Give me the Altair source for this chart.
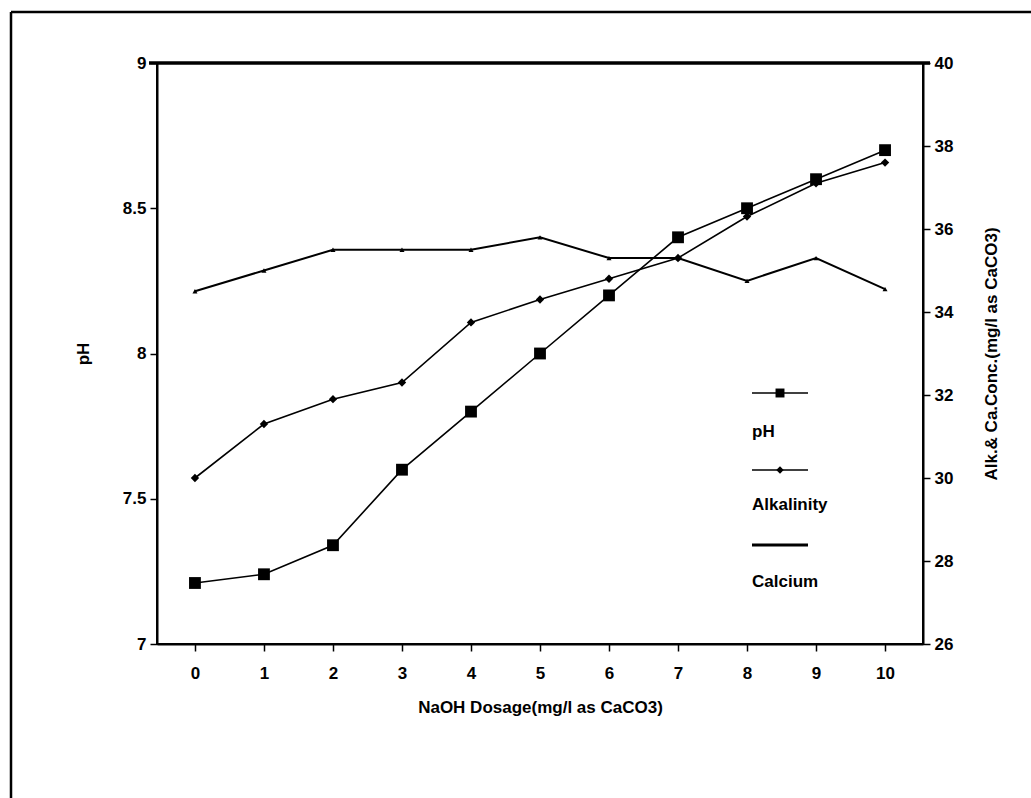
import altair as alt
import pandas as pd

dosage = [0, 1, 2, 3, 4, 5, 6, 7, 8, 9, 10]
ph = [7.21, 7.24, 7.34, 7.60, 7.80, 8.00, 8.20, 8.40, 8.50, 8.60, 8.70]
alkalinity = [30.0, 31.3, 31.9, 32.3, 33.75, 34.3, 34.8, 35.3, 36.3, 37.1, 37.6]
calcium = [34.5, 35.0, 35.5, 35.5, 35.5, 35.8, 35.3, 35.3, 34.75, 35.3, 34.55]

x_ticks = dosage
ph_ticks = [7, 7.5, 8, 8.5, 9]
conc_ticks = [26, 28, 30, 32, 34, 36, 38, 40]

df = pd.DataFrame({"dosage": dosage, "ph": ph, "alk": alkalinity, "ca": calcium})

FONT = "Liberation Sans"
W, H = 766, 581

xenc = alt.X("dosage:Q", scale=alt.Scale(domain=[-0.55, 10.55], nice=False, zero=False),
             axis=alt.Axis(values=x_ticks, title="NaOH Dosage(mg/l as CaCO3)", grid=False,
                           tickSize=7, labelPadding=14, titlePadding=18, format="d"))

base = alt.Chart(df)

ph_y = alt.Y("ph:Q", scale=alt.Scale(domain=[7, 9], nice=False, zero=False),
             axis=alt.Axis(values=ph_ticks, title="pH", grid=False, orient="left", format="~g",
                           tickSize=7, labelPadding=4, titlePadding=30))
ph_line = base.mark_line(color="black", strokeWidth=1.6).encode(x=xenc, y=ph_y)
ph_pts = base.mark_point(shape="square", filled=True, color="black", size=140, opacity=1).encode(x=xenc, y=ph_y)
left = alt.layer(ph_line, ph_pts)

c_scale = alt.Scale(domain=[26, 40], nice=False, zero=False)
c_axis = alt.Axis(values=conc_ticks, title="Alk.& Ca.Conc.(mg/l as CaCO3)", grid=False, orient="right",
                  tickSize=7, labelPadding=4, titlePadding=48, titleAngle=270)
alk_y = alt.Y("alk:Q", scale=c_scale, axis=c_axis)
ca_y = alt.Y("ca:Q", scale=c_scale, axis=c_axis)
alk_line = base.mark_line(color="black", strokeWidth=1.6).encode(x=xenc, y=alk_y)
alk_pts = base.mark_point(shape="diamond", filled=True, color="black", size=70, opacity=1).encode(x=xenc, y=alk_y)
ca_line = base.mark_line(color="black", strokeWidth=2).encode(x=xenc, y=ca_y)
ca_pts = base.mark_point(shape="triangle-up", filled=True, color="black", size=25, opacity=1).encode(x=xenc, y=ca_y)
right = alt.layer(alk_line, alk_pts, ca_line, ca_pts)

data_chart = alt.layer(left, right).resolve_scale(y="independent")

one = pd.DataFrame({"a": [0]})
ob = alt.Chart(one)

# custom legend (symbol above label)
lx1, lx2, lxc = 595, 651, 623
leg = []
for ys, yt, label, shape, size in [(330, 369, "pH", "square", 80), (407, 442, "Alkalinity", "diamond", 55), (482, 519, "Calcium", None, 0)]:
    leg.append(ob.mark_rule(color="black", strokeWidth=1.6 if shape else 3).encode(
        x=alt.value(lx1), x2=alt.value(lx2), y=alt.value(ys)))
    if shape:
        leg.append(ob.mark_point(shape=shape, filled=True, color="black", size=size, opacity=1).encode(
            x=alt.value(lxc), y=alt.value(ys)))
    leg.append(ob.mark_text(text=label, font=FONT, fontSize=17, fontWeight="bold", align="left",
                            baseline="middle", color="black").encode(x=alt.value(lx1), y=alt.value(yt)))

# frame decorations
top_thick = ob.mark_rule(color="black", strokeWidth=3.5).encode(x=alt.value(-8), x2=alt.value(W + 7), y=alt.value(0))
outer_top = ob.mark_rule(color="black", strokeWidth=2.5).encode(x=alt.value(-146), x2=alt.value(874), y=alt.value(-51))
outer_left = ob.mark_rule(color="black", strokeWidth=2.5).encode(x=alt.value(-146), y=alt.value(-51), y2=alt.value(735))

chart = alt.layer(data_chart, *leg, top_thick, outer_top, outer_left).properties(
    width=W, height=H,
    autosize=alt.AutoSizeParams(type="none"),
    padding={"left": 157, "top": 63, "right": 1031 - 157 - W, "bottom": 798 - 63 - H},
    background="white",
).configure_view(stroke="black", strokeWidth=2).configure_axis(
    labelFont=FONT, titleFont=FONT, labelFontSize=17, titleFontSize=17,
    labelFontWeight="bold", titleFontWeight="bold", labelColor="black", titleColor="black",
    domainColor="black", tickColor="black", domainWidth=2, tickWidth=1.5,
)

chart.save("out.html", embed_options={"renderer": "svg", "actions": False})
